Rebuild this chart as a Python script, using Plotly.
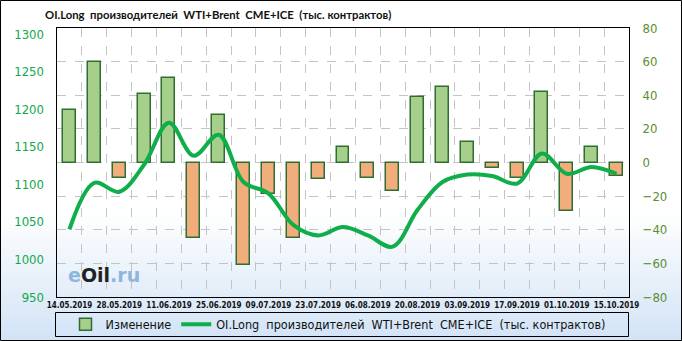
import plotly.graph_objects as go

W, H = 682, 341
PL, PR, PT, PB = 57, 629, 28, 297  # plot area pixel edges

dates = ["14.05.2019", "21.05.2019", "28.05.2019", "04.06.2019", "11.06.2019", "18.06.2019",
         "25.06.2019", "02.07.2019", "09.07.2019", "16.07.2019", "23.07.2019", "30.07.2019",
         "06.08.2019", "13.08.2019", "20.08.2019", "27.08.2019", "03.09.2019", "10.09.2019",
         "17.09.2019", "24.09.2019", "01.10.2019", "08.10.2019", "15.10.2019"]
change = [31, 60, -9, 41, 50, -45, 28, -61, -19, -45, -10, 9,
          -9, -17, 39, 45, 12, -3, -9, 42, -29, 9, -8]
oi_long = [1040, 1102, 1090, 1126, 1182, 1138, 1166, 1103, 1088, 1046, 1032, 1043,
           1032, 1017, 1066, 1103, 1113, 1111, 1101, 1141, 1114, 1123, 1114]

left_ticks = [950, 1000, 1050, 1100, 1150, 1200, 1250, 1300]
right_ticks = [-80, -60, -40, -20, 0, 20, 40, 60, 80]

title_txt = "OI.Long\u00a0\u00a0производителей\u00a0\u00a0WTI+Brent\u00a0\u00a0CME+ICE\u00a0\u00a0(тыс.\u00a0контрактов)"
bar_name = "Изменение"

FONT = "Tahoma, 'DejaVu Sans Condensed', 'DejaVu Sans', sans-serif"
TITLE_FONT = "Lato, 'Liberation Sans', sans-serif"


def px_x(p):
    return (p - PL) / (PR - PL)


def px_y(p):
    return (PB - p) / (PB - PT)


n = len(dates)
xs = list(range(n))
bar_colors = ["#A6CF8B" if v >= 0 else "#F2AD7D" for v in change]

fig = go.Figure()
fig.add_trace(go.Bar(
    x=xs, y=change, name=bar_name, width=0.52,
    marker=dict(color=bar_colors, line=dict(color="#2F6E31", width=1.5)),
    yaxis="y", showlegend=True,
))
fig.add_trace(go.Scatter(
    x=xs, y=oi_long, name=title_txt, mode="lines",
    line=dict(color="#10AE4A", width=4, shape="spline", smoothing=1.0),
    yaxis="y2",
))

shapes = []
# background gradient
y0g, y1g = 212, H
steps = 40
c0 = (255, 255, 255)
c1 = (210, 227, 246)
for i in range(steps):
    t = (i + 0.5) / steps
    c = tuple(int(round(c0[k] + (c1[k] - c0[k]) * t)) for k in range(3))
    ya = y0g + (y1g - y0g) * i / steps
    yb = y0g + (y1g - y0g) * (i + 1) / steps + 0.6
    shapes.append(dict(type="rect", xref="paper", yref="paper",
                       x0=px_x(0), x1=px_x(W), y0=px_y(yb), y1=px_y(ya),
                       fillcolor="rgb(%d,%d,%d)" % c, line=dict(width=0), layer="below"))
# legend box
shapes.append(dict(type="rect", xref="paper", yref="paper",
                   x0=px_x(55.5), x1=px_x(628.5), y0=px_y(336.5), y1=px_y(312.5),
                   line=dict(color="black", width=1), fillcolor="rgba(0,0,0,0)", layer="above"))
# outer border
shapes.append(dict(type="rect", xref="paper", yref="paper",
                   x0=px_x(0.5), x1=px_x(W - 0.5), y0=px_y(H - 0.5), y1=px_y(0.5),
                   line=dict(color="black", width=1), fillcolor="rgba(0,0,0,0)", layer="above"))

annotations = [
    dict(text="<b>" + title_txt + "</b>", xref="paper", yref="paper",
         x=px_x(43), y=px_y(15), xanchor="left", yanchor="middle", showarrow=False,
         font=dict(family=TITLE_FONT, size=11.3, color="#111111")),
    dict(text="<span style='color:#8DB6DA'>e</span><span style='color:#222222'>Oil</span>"
              "<span style='color:#8DB6DA'>.ru</span>",
         xref="paper", yref="paper", x=px_x(66), y=px_y(275), xanchor="left", yanchor="middle",
         showarrow=False, font=dict(family="'DejaVu Sans', sans-serif", size=19, weight="bold")),
]

fig.update_layout(
    width=W, height=H,
    margin=dict(l=PL, r=W - PR, t=PT, b=H - PB, pad=0, autoexpand=False),
    paper_bgcolor="white", plot_bgcolor="rgba(0,0,0,0)",
    barmode="overlay", bargap=0,
    shapes=shapes, annotations=annotations,
    showlegend=True,
    legend=dict(orientation="h", xref="container", yref="container",
                x=338 / W, xanchor="center", y=1 - 324.5 / H, yanchor="middle",
                bgcolor="rgba(0,0,0,0)", borderwidth=0,
                font=dict(family=FONT, size=12.5, color="#111111"),
                itemwidth=30, tracegroupgap=0),
    xaxis=dict(range=[-0.5, n - 0.5], tickvals=xs[::2], ticktext=dates[::2],
               showgrid=False, zeroline=False, showline=True, linecolor="black", linewidth=1,
               mirror=True, ticks="", tickangle=0, automargin=False,
               tickfont=dict(family=FONT, size=8, color="#111111", weight="bold"),
               minor=dict(tickvals=[i + 0.5 for i in range(n - 1)], showgrid=True,
                          gridcolor="#C4C4C4", griddash="dash", gridwidth=1, ticks="")),
    yaxis=dict(side="right", range=[-80, 80], tickvals=right_ticks, showgrid=True,
               gridcolor="#C4C4C4", griddash="dash", gridwidth=1, zeroline=False,
               showline=True, linecolor="black", linewidth=1, mirror=True,
               ticks="", ticklabelstandoff=10, automargin=False,
               tickfont=dict(family=FONT, size=13, color="#5A8E2F")),
    yaxis2=dict(side="left", overlaying="y", range=[950, 1308], tickvals=left_ticks,
                showgrid=False, zeroline=False, showline=False, ticks="", ticklabelstandoff=12,
                automargin=False,
                tickfont=dict(family=FONT, size=13, color="#12A84A")),
)

fig.write_html("out.html")
